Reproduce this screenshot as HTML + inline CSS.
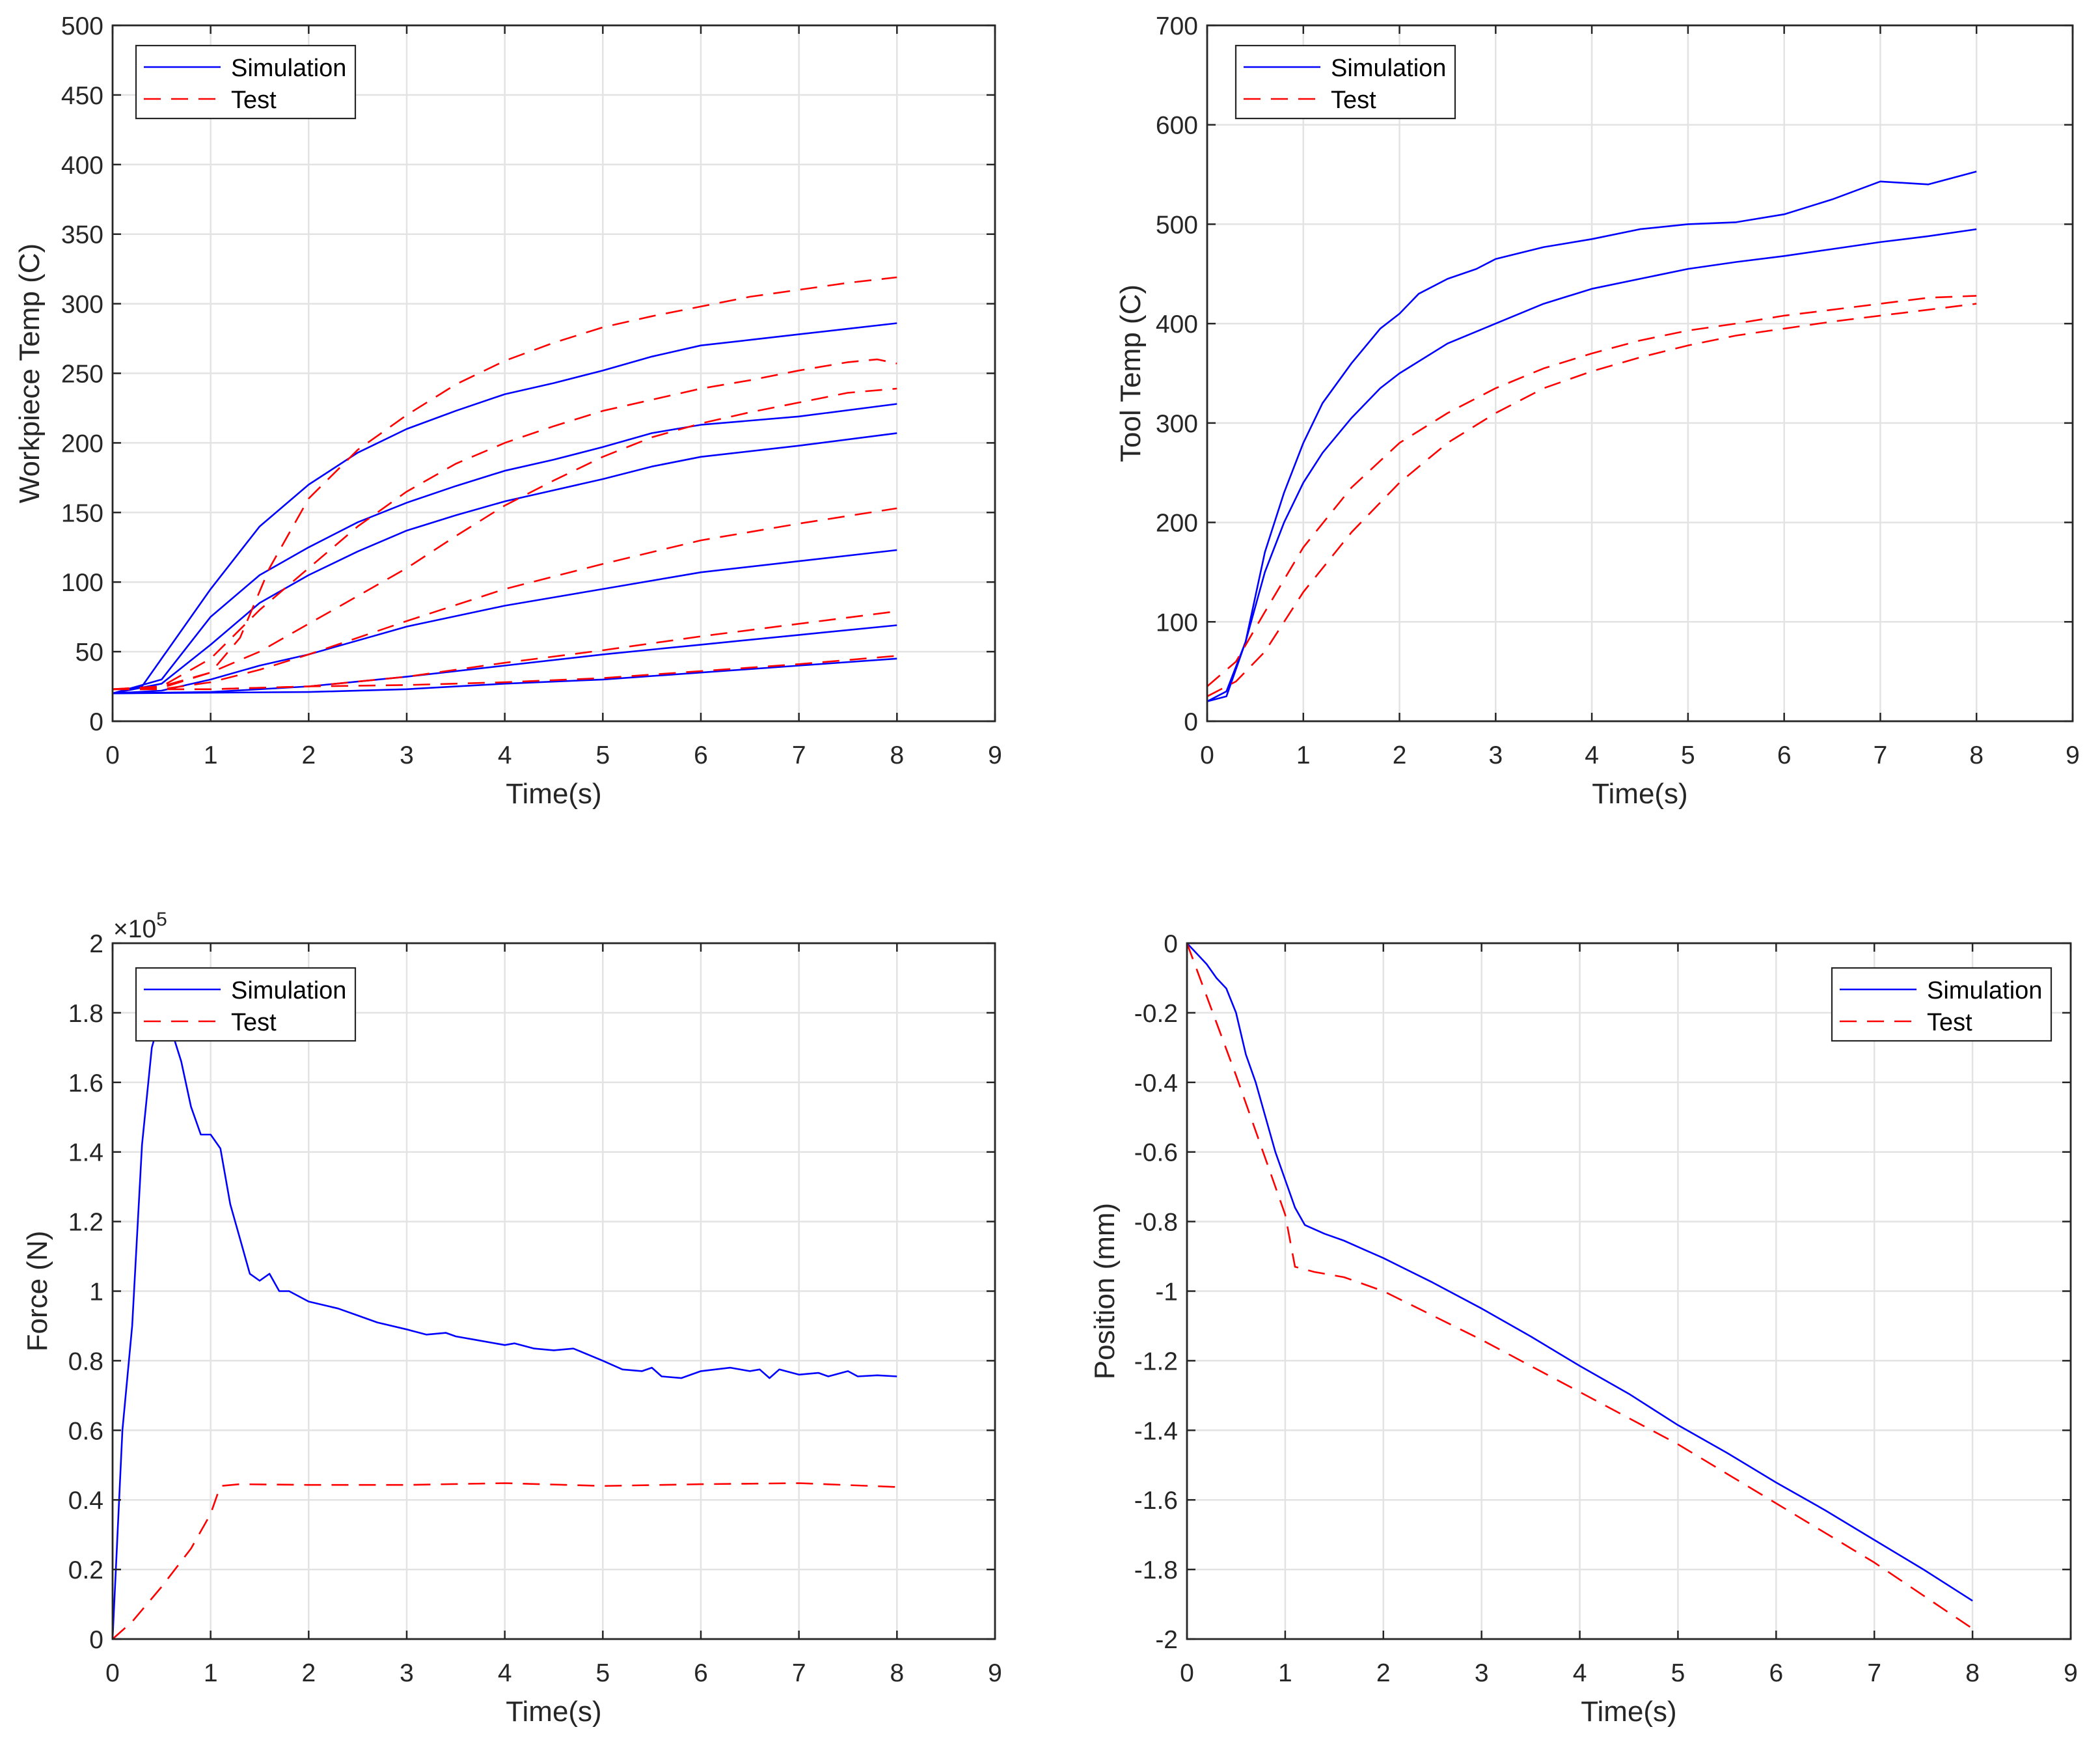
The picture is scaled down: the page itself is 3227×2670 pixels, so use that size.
<!DOCTYPE html>
<html><head><meta charset="utf-8"><style>
html,body{margin:0;padding:0;background:#fff}
svg{display:block;font-family:"Liberation Sans",Arial,sans-serif}
</style></head><body>
<svg id="fig" width="3227" height="2670" viewBox="0 0 3227 2670" xmlns="http://www.w3.org/2000/svg"></svg>
<script>
// ---- Data ----
const xTicks=[0,1,2,3,4,5,6,7,8,9];
const wpTicks=[0,50,100,150,200,250,300,350,400,450,500];
const toolTicks=[0,100,200,300,400,500,600,700];
const forceTicks=[0,0.2,0.4,0.6,0.8,1,1.2,1.4,1.6,1.8,2];
const forceTickLabels=['0','0.2','0.4','0.6','0.8','1','1.2','1.4','1.6','1.8','2'];
const posTicks=[0,-0.2,-0.4,-0.6,-0.8,-1,-1.2,-1.4,-1.6,-1.8,-2];
const posTickLabels=['0','-0.2','-0.4','-0.6','-0.8','-1','-1.2','-1.4','-1.6','-1.8','-2'];

const wpSimA_t=[0,0.3,0.5,1,1.5,2,2.5,3,3.5,4,4.5,5,5.5,6,6.5,7,7.5,8];
const wpSimA_v=[20,25,45,95,140,170,193,210,223,235,243,252,262,270,274,278,282,286];
const wpSimB_t=[0,0.5,1,1.5,2,2.5,3,3.5,4,4.5,5,5.5,6,7,8];
const wpSimB_v=[20,30,75,105,125,143,157,169,180,188,197,207,213,219,228];
const wpSimC_t=[0,0.5,1,1.5,2,2.5,3,3.5,4,4.5,5,5.5,6,7,8];
const wpSimC_v=[20,27,55,85,105,122,137,148,158,166,174,183,190,198,207];
const wpSimD_t=[0,0.5,1,1.5,2,3,4,5,6,7,8];
const wpSimD_v=[20,22,30,40,48,68,83,95,107,115,123];
const wpSimE_t=[0,1,2,3,4,5,6,7,8];
const wpSimE_v=[20,21,25,32,40,48,55,62,69];
const wpSimF_t=[0,2,3,4,5,6,7,8];
const wpSimF_v=[20,21,23,27,30,35,40,45];
const wpTestA_t=[0,0.5,1,1.3,1.6,2,2.5,3,3.5,4,4.5,5,5.5,6,6.5,7,7.5,8];
const wpTestA_v=[23,25,35,60,110,160,195,220,242,259,272,283,291,298,305,310,315,319];
const wpTestB_t=[0,0.5,1,1.5,2,2.5,3,3.5,4,4.5,5,5.5,6,6.5,7,7.5,7.8,8];
const wpTestB_v=[23,25,45,80,110,140,165,185,200,212,223,231,239,245,252,258,260,257];
const wpTestC_t=[0,0.5,1,1.5,2,2.5,3,3.5,4,4.5,5,5.5,6,6.5,7,7.5,8];
const wpTestC_v=[23,24,35,50,70,90,110,133,155,173,190,204,214,222,229,236,239];
const wpTestD_t=[0,0.5,1,1.5,2,3,4,5,6,7,8];
const wpTestD_v=[23,23,28,37,48,72,95,113,130,142,153];
const wpTestE_t=[0,1,2,3,4,5,6,7,8];
const wpTestE_v=[23,23,25,32,42,51,61,70,79];
const wpTestF_t=[0,1,2,3,4,5,6,7,8];
const wpTestF_v=[23,23,25,26,28,31,36,41,47];

const toolSimA_t=[0,0.2,0.4,0.6,0.8,1,1.2,1.5,1.8,2,2.2,2.5,2.8,3,3.5,4,4.5,5,5.5,6,6.5,7,7.5,8];
const toolSimA_v=[20,25,80,170,230,280,320,360,395,410,430,445,455,465,477,485,495,500,502,510,525,543,540,553];
const toolSimB_t=[0,0.2,0.4,0.6,0.8,1,1.2,1.5,1.8,2,2.5,3,3.5,4,4.5,5,5.5,6,6.5,7,7.5,8];
const toolSimB_v=[20,30,80,150,200,240,270,305,335,350,380,400,420,435,445,455,462,468,475,482,488,495];
const toolTestA_t=[0,0.3,0.6,1,1.5,2,2.5,3,3.5,4,4.5,5,5.5,6,6.5,7,7.5,8];
const toolTestA_v=[35,60,110,175,235,280,310,335,355,370,383,393,400,408,414,420,426,428];
const toolTestB_t=[0,0.3,0.6,1,1.5,2,2.5,3,3.5,4,4.5,5,5.5,6,6.5,7,7.5,8];
const toolTestB_v=[25,40,70,130,190,240,280,310,335,352,366,378,388,395,402,408,414,420];

const forceSim_t=[0,0.1,0.2,0.3,0.4,0.5,0.6,0.7,0.8,0.9,1,1.1,1.2,1.3,1.4,1.5,1.6,1.7,1.8,2,2.3,2.5,2.7,3,3.2,3.4,3.5,3.7,4,4.1,4.3,4.5,4.7,5,5.2,5.4,5.5,5.6,5.8,6,6.3,6.5,6.6,6.7,6.8,7,7.2,7.3,7.5,7.6,7.8,8];
const forceSim_v=[0,0.6,0.9,1.42,1.7,1.8,1.75,1.66,1.53,1.45,1.45,1.41,1.25,1.15,1.05,1.03,1.05,1.0,1.0,0.97,0.95,0.93,0.91,0.89,0.875,0.88,0.87,0.86,0.845,0.85,0.835,0.83,0.835,0.8,0.775,0.77,0.78,0.755,0.75,0.77,0.78,0.77,0.775,0.75,0.775,0.76,0.765,0.755,0.77,0.755,0.758,0.755];
const forceTest_t=[0,0.2,0.5,0.8,1,1.1,1.3,2,3,4,5,6,7,8];
const forceTest_v=[0,0.05,0.15,0.26,0.36,0.44,0.445,0.443,0.443,0.448,0.44,0.445,0.448,0.437];

const posSim_t=[0,0.1,0.2,0.3,0.4,0.5,0.6,0.7,0.8,0.9,1,1.1,1.2,1.4,1.6,1.8,2,2.5,3,3.5,4,4.5,5,5.5,6,6.5,7,7.5,8];
const posSim_v=[0,-0.03,-0.06,-0.1,-0.13,-0.2,-0.32,-0.4,-0.5,-0.6,-0.68,-0.76,-0.81,-0.835,-0.855,-0.88,-0.905,-0.975,-1.05,-1.13,-1.215,-1.295,-1.385,-1.465,-1.55,-1.63,-1.715,-1.8,-1.89];
const posTest_t=[0,0.5,1,1.1,1.3,1.6,2,3,4,5,6,7,8];
const posTest_v=[0,-0.38,-0.78,-0.93,-0.945,-0.96,-1.0,-1.14,-1.29,-1.44,-1.61,-1.78,-1.97];

const NS='http://www.w3.org/2000/svg';
const svg=document.getElementById('fig');
function mk(tag,attrs,parent){const e=document.createElementNS(NS,tag);for(const k in attrs)e.setAttribute(k,attrs[k]);(parent||svg).appendChild(e);return e;}

function panel(cfg){
  const g=mk('g',{});
  
  
  const L=cfg.L,R=cfg.R,T=cfg.T,B=cfg.B;
  const sx=v=>L+(v-0)/9*(R-L);
  const sy=v=>B-(v-cfg.ymin)/(cfg.ymax-cfg.ymin)*(B-T);
  xTicks.forEach(t=>{const l=mk('line',{x1:sx(t),x2:sx(t),y1:T,y2:B,stroke:'#e3e3e3','stroke-width':2.5},g);
    });
  cfg.yTicks.forEach(t=>{const l=mk('line',{x1:L,x2:R,y1:sy(t),y2:sy(t),stroke:'#e3e3e3','stroke-width':2.5},g);
    });
  cfg.series.forEach(s=>{
    const pts=s.t.map((t,i)=>sx(t).toFixed(1)+','+sy(s.v[i]).toFixed(1)).join(' ');
    const p=mk('polyline',{points:pts,fill:'none',stroke:s.dash?'#ff0000':'#0000ff','stroke-width':2.6,'stroke-dasharray':s.dash?'26 16':'none','stroke-linejoin':'round'},g);
    
    
  });
  const tl=13;
  xTicks.forEach(t=>{
    mk('line',{x1:sx(t),x2:sx(t),y1:B,y2:B-tl,stroke:'#262626','stroke-width':2.5},g);
    mk('line',{x1:sx(t),x2:sx(t),y1:T,y2:T+tl,stroke:'#262626','stroke-width':2.5},g);
    const tx=mk('text',{x:sx(t),y:B+65,'font-size':39,'text-anchor':'middle',fill:'#262626'},g);
    tx.textContent=t;
    
    
  });
  cfg.yTicks.forEach((t,i)=>{
    mk('line',{x1:L,x2:L+tl,y1:sy(t),y2:sy(t),stroke:'#262626','stroke-width':2.5},g);
    mk('line',{x1:R,x2:R-tl,y1:sy(t),y2:sy(t),stroke:'#262626','stroke-width':2.5},g);
    const ty=mk('text',{x:L-14,y:sy(t)+14,'font-size':39,'text-anchor':'end',fill:'#262626'},g);
    ty.textContent=cfg.yLabels?cfg.yLabels[i]:t;
    
    
  });
  const box=mk('rect',{x:L,y:T,width:R-L,height:B-T,fill:'none',stroke:'#262626','stroke-width':2.8},g);
  
  
  const xl=mk('text',{x:(L+R)/2,y:B+126,'font-size':44,'text-anchor':'middle',fill:'#262626'},g);
  xl.textContent='Time(s)';
  
  
  const yc=(T+B)/2;
  const yl=mk('text',{x:cfg.ylx,y:yc,'font-size':44,'text-anchor':'middle',fill:'#262626',transform:'rotate(-90 '+cfg.ylx+' '+yc+')'},g);
  yl.textContent=cfg.ylabel;
  
  
  const lg=mk('g',{},g);
  
  
  const lx=cfg.legX,ly=cfg.legY;
  mk('rect',{x:lx,y:ly,width:337,height:112,fill:'#fff',stroke:'#262626','stroke-width':2.2},lg);
  mk('line',{x1:lx+12,x2:lx+130,y1:ly+33,y2:ly+33,stroke:'#0000ff','stroke-width':2.6},lg);
  mk('line',{x1:lx+12,x2:lx+130,y1:ly+82,y2:ly+82,stroke:'#ff0000','stroke-width':2.6,'stroke-dasharray':'26 16'},lg);
  const t1=mk('text',{x:lx+146,y:ly+47,'font-size':38,fill:'#000'},lg);t1.textContent='Simulation';
  
  const t2=mk('text',{x:lx+146,y:ly+96,'font-size':38,fill:'#000'},lg);t2.textContent='Test';
  
  return g;
}

panel({name:'workpiece-temp-chart',L:173,R:1529,T:39,B:1108,ymin:0,ymax:500,yTicks:wpTicks,ylabel:'Workpiece Temp (C)',ylx:60,legX:209,legY:70,
  series:[
   {name:'sim-curve-a',t:wpSimA_t,v:wpSimA_v},{name:'sim-curve-b',t:wpSimB_t,v:wpSimB_v},{name:'sim-curve-c',t:wpSimC_t,v:wpSimC_v},
   {name:'sim-curve-d',t:wpSimD_t,v:wpSimD_v},{name:'sim-curve-e',t:wpSimE_t,v:wpSimE_v},{name:'sim-curve-f',t:wpSimF_t,v:wpSimF_v},
   {name:'test-curve-a',t:wpTestA_t,v:wpTestA_v,dash:1},{name:'test-curve-b',t:wpTestB_t,v:wpTestB_v,dash:1},{name:'test-curve-c',t:wpTestC_t,v:wpTestC_v,dash:1},
   {name:'test-curve-d',t:wpTestD_t,v:wpTestD_v,dash:1},{name:'test-curve-e',t:wpTestE_t,v:wpTestE_v,dash:1},{name:'test-curve-f',t:wpTestF_t,v:wpTestF_v,dash:1}]});
panel({name:'tool-temp-chart',L:1855,R:3185,T:39,B:1108,ymin:0,ymax:700,yTicks:toolTicks,ylabel:'Tool Temp (C)',ylx:1752,legX:1899,legY:70,
  series:[{name:'sim-curve-a',t:toolSimA_t,v:toolSimA_v},{name:'sim-curve-b',t:toolSimB_t,v:toolSimB_v},
   {name:'test-curve-a',t:toolTestA_t,v:toolTestA_v,dash:1},{name:'test-curve-b',t:toolTestB_t,v:toolTestB_v,dash:1}]});
panel({name:'force-chart',L:173,R:1529,T:1449,B:2518,ymin:0,ymax:2,yTicks:forceTicks,yLabels:forceTickLabels,ylabel:'Force (N)',ylx:72,legX:209,legY:1487,
  series:[{name:'sim-force',t:forceSim_t,v:forceSim_v},{name:'test-force',t:forceTest_t,v:forceTest_v,dash:1}]});
panel({name:'position-chart',L:1824,R:3182,T:1449,B:2518,ymin:-2,ymax:0,yTicks:posTicks,yLabels:posTickLabels,ylabel:'Position (mm)',ylx:1712,legX:2815,legY:1487,
  series:[{name:'sim-position',t:posSim_t,v:posSim_v},{name:'test-position',t:posTest_t,v:posTest_v,dash:1}]});

const ex=mk('text',{x:174,y:1440,'font-size':39,fill:'#262626'});
ex.innerHTML='×10<tspan dy="-18" font-size="30">5</tspan>';


</script>
</body></html>
